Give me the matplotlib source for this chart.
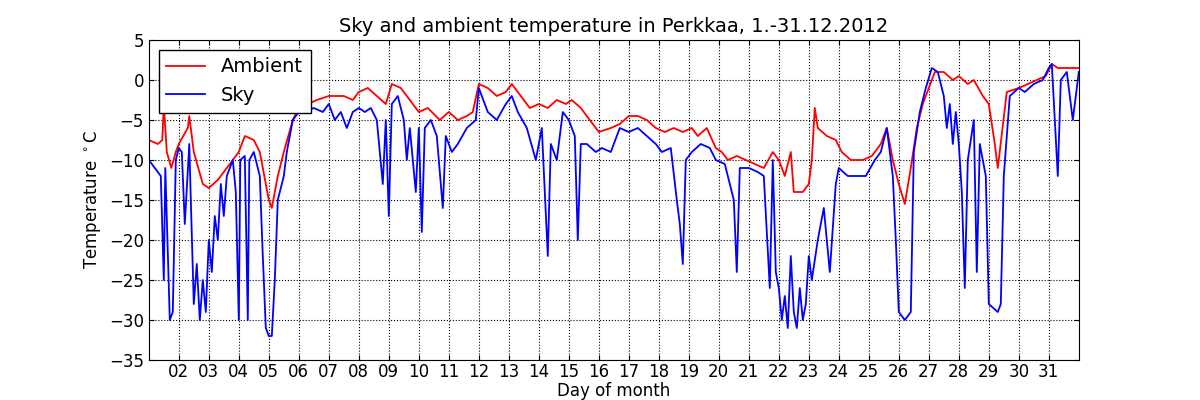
import numpy as np
import matplotlib
matplotlib.use("Agg")
import matplotlib.pyplot as plt

# ambient temperature (day, degC)
amb_day = [1.0, 1.3, 1.45, 1.5, 1.6, 1.75, 1.9, 2.0, 2.3, 2.35, 2.5, 2.8, 3.0, 3.3, 3.6, 3.8,
           4.0, 4.2, 4.5, 4.7, 4.85, 5.0, 5.1, 5.3, 5.5, 5.8, 6.0, 6.3, 6.6, 7.0, 7.5, 7.8,
           8.0, 8.3, 8.6, 8.9, 9.1, 9.4, 9.7, 10.0, 10.3, 10.7, 11.0, 11.3, 11.6, 11.8, 12.0,
           12.3, 12.6, 12.9, 13.1, 13.4, 13.7, 14.0, 14.3, 14.6, 14.9, 15.1, 15.4, 15.7, 16.0,
           16.4, 16.7, 17.0, 17.3, 17.6, 17.9, 18.2, 18.5, 18.8, 19.1, 19.3, 19.6, 19.9, 20.1,
           20.3, 20.6, 20.9, 21.2, 21.5, 21.8, 22.0, 22.2, 22.4, 22.5, 22.8, 23.0, 23.1, 23.2,
           23.3, 23.6, 23.9, 24.1, 24.4, 24.8, 25.1, 25.4, 25.6, 25.8, 26.0, 26.2, 26.4, 26.6,
           26.8, 27.0, 27.2, 27.5, 27.8, 28.0, 28.3, 28.5, 28.8, 29.0, 29.2, 29.3, 29.6, 30.0,
           30.3, 30.6, 30.9, 31.1, 31.3, 31.6, 32.0]
amb_temp = [-7.5, -8, -7.5, -3, -9, -11, -9, -8, -6, -4.5, -9, -13, -13.5, -12.5, -11, -10,
            -9, -7, -7.5, -9, -12, -15, -16, -12, -9, -5, -3.5, -3, -2.5, -2, -2, -2.5,
            -1.5, -1, -2, -3, -0.5, -1, -2.5, -4, -3.5, -5, -4, -5, -4.5, -4, -0.5,
            -1, -2, -1.5, -0.5, -2, -3.5, -3, -3.5, -2.5, -3, -2.5, -3.5, -5, -6.5,
            -6, -5.5, -4.5, -4.5, -5, -6, -6.5, -6, -6.5, -6, -7, -6, -8.5, -9,
            -10, -9.5, -10, -10.5, -11, -9, -10, -12, -9, -14, -14, -13, -10, -3.5,
            -6, -7, -7.5, -9, -10, -10, -9.5, -8, -6, -10, -13, -15.5, -11, -6,
            -3, -1, 1, 1, 0, 0.5, -0.5, 0, -2, -3, -8, -11, -1.5, -1,
            -0.5, 0, 0.5, 2, 1.5, 1.5, 1.5]

# sky temperature (day, degC)
sky_day = [1.0, 1.2, 1.4, 1.5, 1.55, 1.7, 1.8, 1.9, 2.0, 2.1, 2.2, 2.35, 2.4, 2.5, 2.6, 2.7,
           2.8, 2.9, 3.0, 3.1, 3.2, 3.3, 3.4, 3.5, 3.6, 3.8, 3.9, 4.0, 4.05, 4.2, 4.3, 4.35,
           4.5, 4.7, 4.8, 4.9, 5.0, 5.1, 5.2, 5.3, 5.5, 5.6, 5.8, 6.0, 6.2, 6.5, 6.8, 7.0,
           7.2, 7.4, 7.6, 7.8, 8.0, 8.2, 8.4, 8.6, 8.8, 8.9, 9.0, 9.1, 9.3, 9.5, 9.6, 9.7,
           9.9, 10.0, 10.1, 10.2, 10.4, 10.6, 10.8, 10.9, 11.1, 11.3, 11.6, 11.9, 12.0, 12.3,
           12.6, 12.9, 13.1, 13.3, 13.6, 13.9, 14.1, 14.3, 14.4, 14.6, 14.8, 15.0, 15.2, 15.3,
           15.4, 15.6, 15.9, 16.1, 16.4, 16.7, 17.0, 17.3, 17.6, 17.9, 18.1, 18.4, 18.6, 18.7,
           18.8, 18.9, 19.1, 19.4, 19.7, 19.9, 20.2, 20.5, 20.6, 20.7, 21.0, 21.3, 21.5, 21.7,
           21.8, 21.9, 22.0, 22.1, 22.2, 22.3, 22.4, 22.5, 22.6, 22.7, 22.8, 22.9, 23.0, 23.1,
           23.3, 23.5, 23.7, 23.9, 24.0, 24.3, 24.6, 24.9, 25.2, 25.4, 25.6, 25.8, 25.9, 26.0,
           26.2, 26.4, 26.5, 26.7, 26.9, 27.1, 27.3, 27.5, 27.6, 27.7, 27.8, 27.9, 28.0, 28.1,
           28.2, 28.3, 28.5, 28.6, 28.7, 28.9, 29.0, 29.3, 29.4, 29.5, 29.7, 30.0, 30.2, 30.5,
           30.8, 31.0, 31.1, 31.3, 31.4, 31.6, 31.8, 32.0]
sky_temp = [-10, -11, -12, -25, -11, -30, -29, -10, -8.5, -9, -18, -8, -15, -28, -23, -30,
            -25, -29, -20, -24, -17, -20, -13, -17, -12, -10, -14, -30, -10, -9.5, -30, -10,
            -9, -12, -22, -31, -32, -32, -25, -15, -12, -9, -5, -4, -4, -3.5, -4, -3,
            -5, -4, -6, -4, -3.5, -4, -3.5, -5, -13, -5, -17, -3, -2, -5, -10, -6,
            -14, -6, -19, -6, -5, -7, -16, -7, -9, -8, -6, -5, -1, -4,
            -5, -3, -2, -4, -6, -10, -6, -22, -8, -10, -4, -5, -7, -20,
            -8, -8, -9, -8.5, -9, -6, -6.5, -6, -7, -8, -9, -8.5, -15, -18,
            -23, -10, -9, -8, -8.5, -10, -10.5, -15, -24, -11, -11, -11.5, -12, -26,
            -10, -24, -26, -30, -27, -31, -22, -29, -31, -26, -30, -28, -22, -25,
            -20, -16, -24, -13, -11, -12, -12, -12, -10, -9, -6, -12, -20, -29,
            -30, -29, -9, -4, -1, 1.5, 1, -2, -6, -3, -8, -4, -8, -14,
            -26, -10, -5, -24, -8, -12, -28, -29, -28, -12, -2, -1, -1.5, -0.5,
            0, 1.5, 2, -12, 0, 1, -5, 1]

day_ticks = list(range(2, 32))
day_labels = ["%02d" % d for d in day_ticks]

fig = plt.figure(figsize=(12, 4), dpi=100)
ax = fig.add_axes([0.124, 0.1, 0.775, 0.8])
ax.plot(amb_day, amb_temp, color="red", linewidth=1.3, label="Ambient")
ax.plot(sky_day, sky_temp, color="blue", linewidth=1.3, label="Sky")
ax.set_xlim(1, 32)
ax.set_ylim(-35, 5)
ax.set_xticks(day_ticks)
ax.set_xticklabels(day_labels, fontsize=12)
ax.set_yticks(np.arange(-35, 6, 5))
ax.tick_params(axis="y", labelsize=12)
ax.tick_params(direction="in", top=True, right=True)
ax.tick_params(axis="x", pad=2)
ax.grid(True, color="black", linestyle=":", linewidth=0.8)
ax.set_xlabel("Day of month", fontsize=12, labelpad=1)
ax.set_ylabel("Temperature $^\\circ$C", fontsize=12)
ax.set_title("Sky and ambient temperature in Perkkaa, 1.-31.12.2012", fontsize=14)
leg = ax.legend(loc="upper left", fontsize=14, fancybox=False, framealpha=1)
leg.get_frame().set_edgecolor("black")
fig.savefig("out.png", dpi=100)
